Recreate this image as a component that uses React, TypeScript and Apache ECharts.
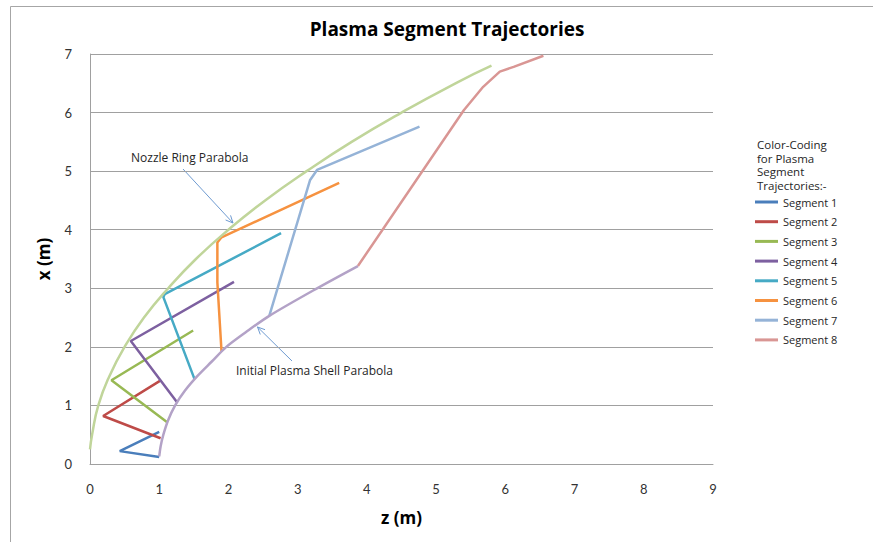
import React, { useEffect, useRef } from "react";
import * as echarts from "echarts";

const xTicks = [0, 1, 2, 3, 4, 5, 6, 7, 8, 9];
const yTicks = [0, 1, 2, 3, 4, 5, 6, 7];

// Nozzle ring parabola (z, x)
const nozzleZ = [0, 0.03, 0.12, 0.28, 0.5, 0.78, 1.13, 1.53, 2.0, 2.53, 3.13, 3.78, 4.5, 5.28, 5.8];
const nozzleX = [0.25, 0.5, 1, 1.5, 2, 2.5, 3, 3.5, 4, 4.5, 5, 5.5, 6, 6.5, 6.8];

// Initial plasma shell parabola (z, x)
const shellZ = [1.0, 1.02, 1.06, 1.13, 1.23, 1.37, 1.55, 1.76, 1.97, 2.25, 2.59, 3.28, 3.87];
const shellX = [0.13, 0.3, 0.5, 0.75, 1.0, 1.25, 1.5, 1.75, 2.0, 2.25, 2.53, 3.0, 3.38];

const segNames = ["Segment 1", "Segment 2", "Segment 3", "Segment 4", "Segment 5", "Segment 6", "Segment 7", "Segment 8"];
const segColors = ["#4A7EBB", "#BE4B48", "#98B954", "#7D60A0", "#46AAC5", "#F69240", "#95B3D7", "#D99694"];

const seg1 = [[1.0, 0.55], [0.43, 0.22], [1.0, 0.12]];
const seg2 = [[1.01, 1.42], [0.19, 0.82], [1.02, 0.44]];
const seg3 = [[1.49, 2.28], [0.31, 1.43], [1.12, 0.71]];
const seg4 = [[2.08, 3.11], [0.59, 2.1], [1.26, 1.05]];
const seg5 = [[2.76, 3.94], [1.08, 2.9], [1.06, 2.85], [1.51, 1.45]];
const seg6 = [[3.6, 4.8], [1.9, 3.87], [1.84, 3.78], [1.84, 3.1], [1.9, 1.92]];
const seg7 = [[4.76, 5.76], [3.28, 5.02], [3.18, 4.85], [2.59, 2.53]];
const seg8 = [[6.55, 6.97], [6.12, 6.78], [5.92, 6.7], [5.68, 6.44], [5.4, 6.04], [3.87, 3.38]];
const segments = [seg1, seg2, seg3, seg4, seg5, seg6, seg7, seg8];

const FONT = "'Open Sans', 'Liberation Sans', sans-serif";
const TICKFONT = "Lato, 'Liberation Sans', sans-serif";

function arrow(x1: number, y1: number, x2: number, y2: number, color: string) {
  const dx = x2 - x1;
  const dy = y2 - y1;
  const len = Math.sqrt(dx * dx + dy * dy);
  const ux = dx / len;
  const uy = dy / len;
  const L = 8;
  const a = (25 * Math.PI) / 180;
  const rot = (vx: number, vy: number, ang: number) => [
    vx * Math.cos(ang) - vy * Math.sin(ang),
    vx * Math.sin(ang) + vy * Math.cos(ang),
  ];
  const r1 = rot(-ux, -uy, a);
  const r2 = rot(-ux, -uy, -a);
  return [
    { type: "line", shape: { x1, y1, x2, y2 }, style: { stroke: color, lineWidth: 1 } },
    {
      type: "polyline",
      shape: { points: [[x2 + r1[0] * L, y2 + r1[1] * L], [x2, y2], [x2 + r2[0] * L, y2 + r2[1] * L]] },
      style: { stroke: color, lineWidth: 1, fill: "none" },
    },
  ];
}

export default function App() {
  const ref = useRef<HTMLDivElement>(null);
  useEffect(() => {
    if (!ref.current) return;
    const chart = echarts.init(ref.current, null, { renderer: "svg" });
    const series: any[] = [];
    series.push({
      name: "Nozzle Ring Parabola",
      type: "line",
      data: nozzleZ.map((z, i) => [z, nozzleX[i]]),
      smooth: true,
      symbol: "none",
      lineStyle: { color: "#C0D59A", width: 2.5 },
      z: 3,
    });
    series.push({
      name: "Initial Plasma Shell Parabola",
      type: "line",
      data: shellZ.map((z, i) => [z, shellX[i]]),
      smooth: 0.3,
      symbol: "none",
      lineStyle: { color: "#B3A2C7", width: 2.5 },
      z: 3,
    });
    segments.forEach((s, i) => {
      series.push({
        name: segNames[i],
        type: "line",
        data: s,
        symbol: "none",
        color: segColors[i],
        lineStyle: { color: segColors[i], width: 2.5 },
        z: 2,
      });
    });
    const graphic: any[] = [
      {
        type: "rect",
        shape: { x: 10.5, y: 6.5, width: 1000, height: 1000 },
        style: { fill: "none", stroke: "#A6A6A6", lineWidth: 1 },
        silent: true,
      },
      {
        type: "text",
        left: 131,
        top: 151,
        style: { text: "Nozzle Ring Parabola", fill: "#262626", font: `12px ${FONT}` },
      },
      {
        type: "text",
        left: 236,
        top: 364,
        style: { text: "Initial Plasma Shell Parabola", fill: "#262626", font: `12px ${FONT}` },
      },
      {
        type: "text",
        left: 757,
        top: 138,
        style: {
          text: "Color-Coding\nfor Plasma\nSegment\nTrajectories:-",
          fill: "#262626",
          font: `11.5px ${FONT}`,
          lineHeight: 13.5,
        },
      },
      ...arrow(183, 169, 233, 223, "#6F9BD1"),
      ...arrow(292, 361, 257.5, 327, "#6F9BD1"),
    ];
    chart.setOption({
      animation: false,
      backgroundColor: "#ffffff",
      title: {
        text: "Plasma Segment Trajectories",
        left: 442,
        textAlign: "center",
        top: 14,
        textStyle: { fontFamily: FONT, fontSize: 19, fontWeight: "bold", color: "#000" },
      },
      legend: {
        data: segNames,
        orient: "vertical",
        left: 750,
        top: 190,
        icon: "rect",
        itemWidth: 23,
        itemHeight: 3,
        itemGap: 5.7,
        textStyle: { fontFamily: FONT, fontSize: 11, color: "#262626", lineHeight: 14 },
      },
      grid: { left: 90, right: 160, top: 54, bottom: 78, containLabel: false },
      xAxis: {
        type: "value",
        min: xTicks[0],
        max: xTicks[xTicks.length - 1],
        interval: 1,
        name: "z (m)",
        nameLocation: "middle",
        nameGap: 45,
        nameTextStyle: { fontFamily: FONT, fontSize: 17, fontWeight: "bold", color: "#000" },
        axisLine: { show: true, lineStyle: { color: "#A0A0A0", width: 1 } },
        axisTick: { show: false },
        axisLabel: { margin: 18, fontFamily: TICKFONT, fontSize: 13, color: "#333" },
        splitLine: { show: false },
      },
      yAxis: {
        type: "value",
        min: yTicks[0],
        max: yTicks[yTicks.length - 1],
        interval: 1,
        name: "x (m)",
        nameLocation: "middle",
        nameGap: 38,
        nameRotate: 90,
        nameTextStyle: { fontFamily: FONT, fontSize: 17, fontWeight: "bold", color: "#000" },
        axisLine: { show: true, lineStyle: { color: "#A0A0A0", width: 1 } },
        axisTick: { show: false },
        axisLabel: { margin: 18, fontFamily: TICKFONT, fontSize: 13, color: "#333" },
        splitLine: { show: true, lineStyle: { color: "#A0A0A0", width: 1 } },
      },
      series,
      graphic,
    });
    return () => chart.dispose();
  }, []);
  return (
    <div
      ref={ref}
      style={{ position: "fixed", left: 0, top: 0, width: 873, height: 542, background: "#fff" }}
    />
  );
}
